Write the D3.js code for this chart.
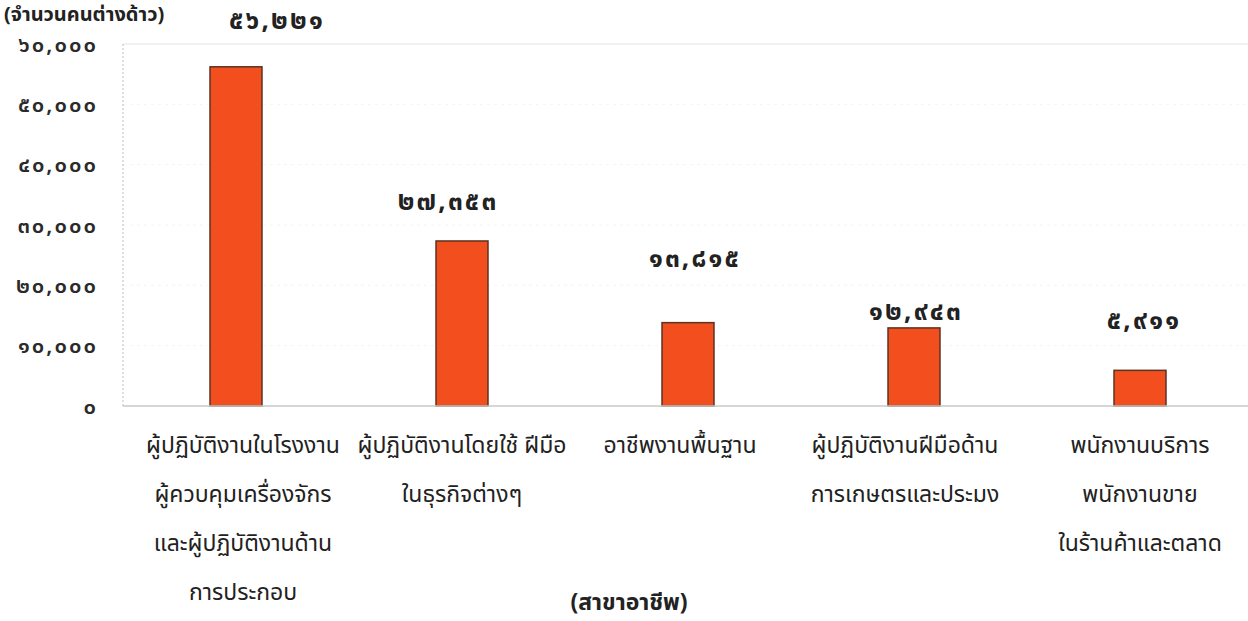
<!DOCTYPE html>
<html>
<head>
<meta charset="utf-8">
<script src="https://cdn.jsdelivr.net/npm/d3@7"></script>
<style>
  html, body { margin: 0; padding: 0; background: #fff; }
  svg { display: block; }
  .cat { font-family: "Noto Sans Thai", "Noto Sans", sans-serif; font-size: 23px; fill: #222; }
  .tick-label { font-family: "Noto Sans Thai", "Noto Sans", sans-serif; font-size: 22px; font-weight: 600; fill: #2a2a2a; letter-spacing: 2px; }
  .val { font-family: "Noto Sans Thai", "Noto Sans", sans-serif; font-size: 26px; font-weight: 700; fill: #222; letter-spacing: 2.2px; }
  .ttl { font-family: "Noto Sans Thai", "Noto Sans", sans-serif; font-size: 20px; font-weight: 700; fill: #222; }
  .xttl { font-family: "Noto Sans Thai", "Noto Sans", sans-serif; font-size: 23px; font-weight: 700; fill: #222; }
</style>
</head>
<body>
<script>
// ---- data ----
const categories = [
  ["ผู้ปฏิบัติงานในโรงงาน", "ผู้ควบคุมเครื่องจักร", "และผู้ปฏิบัติงานด้าน", "การประกอบ"],
  ["ผู้ปฏิบัติงานโดยใช้ ฝีมือ", "ในธุรกิจต่างๆ"],
  ["อาชีพงานพื้นฐาน"],
  ["ผู้ปฏิบัติงานฝีมือด้าน", "การเกษตรและประมง"],
  ["พนักงานบริการ", "พนักงานขาย", "ในร้านค้าและตลาด"]
];
const values = [56221, 27353, 13815, 12943, 5911];
const yTicks = [0, 10000, 20000, 30000, 40000, 50000, 60000];
const yTitle = "(จำนวนคนต่างด้าว)";
const xTitle = "(สาขาอาชีพ)";
// label placement tweaks (pixels) as in the source figure
const labelLift = [38, 31, 56, 8, 41];
const labelShift = [41, -14, 7, 2, 4];
const catShift = [7, 0, -8, -9, 0];

const W = 1248, H = 621;
const margin = { left: 123, right: -5, top: 44, bottom: 215 };
const thaiDigits = "๐๑๒๓๔๕๖๗๘๙";
const toThai = s => String(s).replace(/[0-9]/g, d => thaiDigits[+d]);
const fmt = v => toThai(d3.format(",")(v));

const svg = d3.select("body").append("svg").attr("width", W).attr("height", H);

const x = d3.scaleBand()
  .domain(d3.range(values.length))
  .range([margin.left, W - margin.right])
  .paddingInner(0.77)
  .paddingOuter(0.385);

const y = d3.scaleLinear()
  .domain([0, 60000])
  .range([H - margin.bottom, margin.top]);

// faint gridlines
svg.append("g")
  .selectAll("line")
  .data(yTicks.slice(1))
  .join("line")
  .attr("x1", margin.left).attr("x2", W)
  .attr("y1", d => y(d)).attr("y2", d => y(d))
  .attr("stroke", d => d === 60000 ? "#e4e4e4" : "#f4f4f4")
  .attr("stroke-width", 1)
  .attr("stroke-dasharray", d => d === 60000 ? null : "3,4");

// left dotted axis line
svg.append("line")
  .attr("x1", margin.left).attr("x2", margin.left)
  .attr("y1", y(60000)).attr("y2", y(0))
  .attr("stroke", "#bdbdbd").attr("stroke-dasharray", "2,2");

// y axis labels via d3 axis
const yAxis = d3.axisLeft(y).tickValues(yTicks).tickFormat(fmt).tickSize(0).tickPadding(25);
const ga = svg.append("g").attr("transform", `translate(${margin.left},0)`).call(yAxis);
ga.select(".domain").remove();
ga.selectAll("text").attr("class", "tick-label").attr("font-family", null).attr("font-size", null);

// bars
svg.append("g")
  .selectAll("rect")
  .data(values)
  .join("rect")
  .attr("x", (d, i) => x(i))
  .attr("width", x.bandwidth())
  .attr("y", d => y(d))
  .attr("height", d => y(0) - y(d))
  .attr("fill", "#f24e1e")
  .attr("stroke", "#5b3322")
  .attr("stroke-width", 1.5);

// baseline
svg.append("line")
  .attr("x1", margin.left).attr("x2", W)
  .attr("y1", y(0)).attr("y2", y(0))
  .attr("stroke", "#c8c8c8").attr("stroke-width", 1.5);

// value labels
svg.append("g")
  .selectAll("text")
  .data(values)
  .join("text")
  .attr("class", "val")
  .attr("text-anchor", "middle")
  .attr("x", (d, i) => x(i) + x.bandwidth() / 2 + labelShift[i])
  .attr("y", (d, i) => y(d) - labelLift[i])
  .text(fmt);

// category labels
const cg = svg.append("g")
  .selectAll("text")
  .data(categories)
  .join("text")
  .attr("class", "cat")
  .attr("text-anchor", "middle")
  .attr("x", (d, i) => x(i) + x.bandwidth() / 2 + catShift[i])
  .attr("y", y(0) + 47);
cg.selectAll("tspan")
  .data(d => d)
  .join("tspan")
  .attr("x", function () { return d3.select(this.parentNode).attr("x"); })
  .attr("dy", (d, j) => j === 0 ? 0 : 49)
  .text(d => d);

// axis titles
svg.append("text")
  .attr("class", "ttl")
  .attr("x", 4).attr("y", 21)
  .text(yTitle);

svg.append("text")
  .attr("class", "xttl")
  .attr("text-anchor", "middle")
  .attr("x", 629).attr("y", 610)
  .text(xTitle);
</script>
</body>
</html>
